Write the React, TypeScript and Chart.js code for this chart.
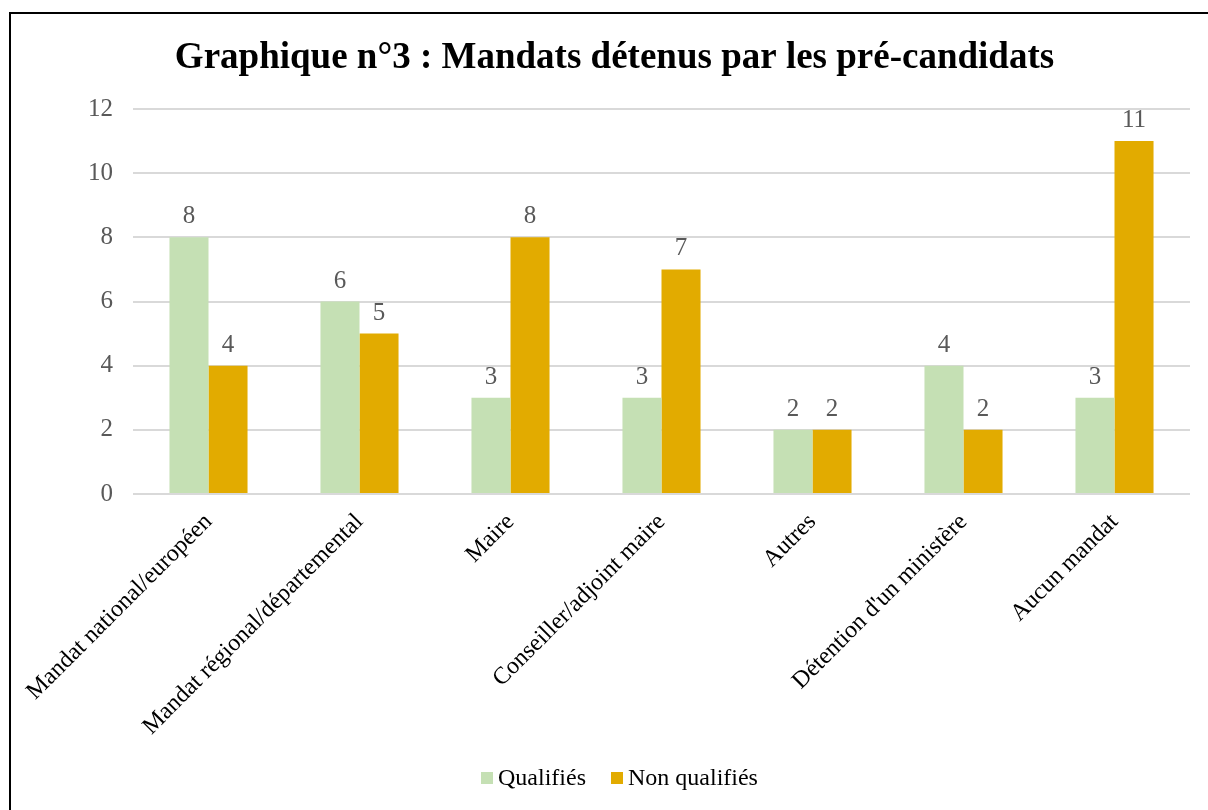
import React, { useEffect, useRef } from "react";
import { Chart, registerables } from "chart.js";

Chart.register(...registerables);

const TITLE = "Graphique n°3 : Mandats détenus par les pré-candidats";
const categories = [
  "Mandat national/européen",
  "Mandat régional/départemental",
  "Maire",
  "Conseiller/adjoint maire",
  "Autres",
  "Détention d'un ministère",
  "Aucun mandat",
];
const qualifies = [8, 6, 3, 3, 2, 4, 3];
const nonQualifies = [4, 5, 8, 7, 2, 2, 11];
const seriesNames = ["Qualifiés", "Non qualifiés"];
const seriesColors = ["#C5E0B4", "#E2AB00"];
const yTicks = [0, 2, 4, 6, 8, 10, 12];

const SERIF = '"Liberation Serif", "Times New Roman", serif';

const dataLabelPlugin = {
  id: "dataLabels",
  afterDatasetsDraw(chart: any) {
    const ctx = chart.ctx;
    ctx.save();
    ctx.font = `25px ${SERIF}`;
    ctx.fillStyle = "#595959";
    ctx.textAlign = "center";
    ctx.textBaseline = "alphabetic";
    chart.data.datasets.forEach((ds: any, di: number) => {
      const meta = chart.getDatasetMeta(di);
      meta.data.forEach((bar: any, i: number) => {
        ctx.fillText(String(ds.data[i]), bar.x, bar.y - 14);
      });
    });
    ctx.restore();
  },
};

export default function App() {
  const canvasRef = useRef<HTMLCanvasElement | null>(null);

  useEffect(() => {
    document.body.style.margin = "0";
    const canvas = canvasRef.current;
    if (!canvas) return;
    const chart = new Chart(canvas, {
      type: "bar",
      data: {
        labels: categories,
        datasets: [
          {
            label: seriesNames[0],
            data: qualifies,
            backgroundColor: seriesColors[0],
            categoryPercentage: 0.517,
            barPercentage: 1,
          },
          {
            label: seriesNames[1],
            data: nonQualifies,
            backgroundColor: seriesColors[1],
            categoryPercentage: 0.517,
            barPercentage: 1,
          },
        ],
      },
      options: {
        animation: false,
        responsive: true,
        maintainAspectRatio: false,
        layout: { padding: { top: 0, left: 39, right: 18, bottom: 55 } },
        plugins: {
          title: {
            display: true,
            text: TITLE,
            color: "#000000",
            font: { family: SERIF, size: 37, weight: "bold" },
            padding: { top: 36, bottom: 28.6 },
          },
          legend: { display: false },
          tooltip: { enabled: false },
        },
        scales: {
          x: {
            grid: { display: false, drawTicks: false },
            border: { display: false },
            ticks: {
              minRotation: 45,
              maxRotation: 45,
              padding: 14,
              color: "#000000",
              font: { family: SERIF, size: 24 },
            },
            afterFit(scale: any) {
              scale.height = 261;
            },
          },
          y: {
            min: 0,
            max: 12,
            afterBuildTicks(scale: any) {
              scale.ticks = yTicks.map((v) => ({ value: v }));
            },
            grid: { color: "#d9d9d9", lineWidth: 2, drawTicks: false },
            border: { display: false },
            ticks: {
              padding: 20,
              color: "#595959",
              font: { family: SERIF, size: 25 },
            },
            afterFit(scale: any) {
              scale.width = 94;
            },
          },
        },
      },
      plugins: [dataLabelPlugin],
    });
    return () => chart.destroy();
  }, []);

  return (
    <div style={{ position: "relative", width: 1208, height: 810, overflow: "hidden", background: "#fff" }}>
      <canvas ref={canvasRef} width={1208} height={810} />
      <div
        style={{
          position: "absolute",
          left: 481,
          top: 763,
          height: 28,
          display: "flex",
          alignItems: "center",
          fontFamily: SERIF,
          fontSize: 24,
          lineHeight: "28px",
          color: "#000",
          whiteSpace: "nowrap",
        }}
      >
        {seriesNames.map((name, i) => (
          <div key={name} style={{ display: "flex", alignItems: "center", marginRight: i === 0 ? 25 : 0 }}>
            <span
              style={{
                display: "inline-block",
                width: 12,
                height: 12,
                background: seriesColors[i],
                marginRight: 5,
                marginTop: 2,
              }}
            />
            <span>{name}</span>
          </div>
        ))}
      </div>
      <div
        style={{
          position: "absolute",
          left: 9,
          top: 12,
          width: 1300,
          height: 900,
          borderLeft: "2px solid #000",
          borderTop: "2px solid #000",
          pointerEvents: "none",
        }}
      />
    </div>
  );
}
